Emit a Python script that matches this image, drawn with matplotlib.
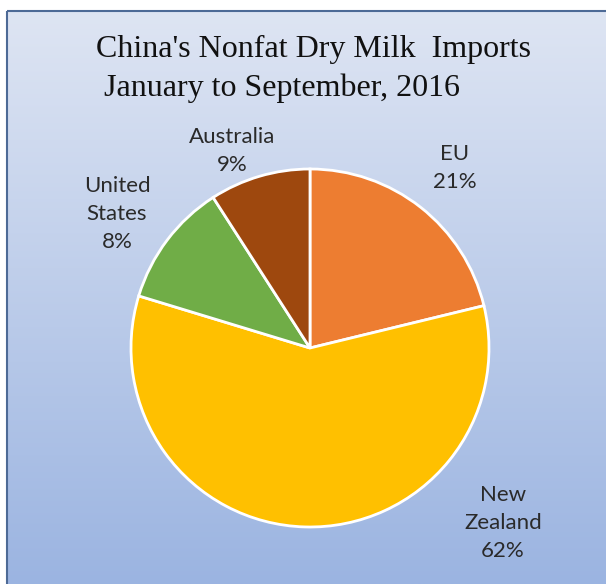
import matplotlib

matplotlib.use("Agg")

import matplotlib.pyplot as plt
import numpy as np
from matplotlib.patches import Rectangle

W, H = 606, 584

countries = ["EU", "New Zealand", "United States", "Australia"]
# slice sizes as drawn in the picture
shares = [21.2, 58.5, 11.2, 9.1]
# percentages as printed on the labels
pct_labels = ["21%", "62%", "8%", "9%"]
label_lines = ["EU", "New\nZealand", "United\nStates", "Australia"]
colors = ["#ED7D31", "#FFC000", "#70AD47", "#9E480E"]

# label anchor points in pixels (layout only)
label_pos = [(455, 168), (503, 523), (117, 214), (232, 151)]

title_lines = ["China's Nonfat Dry Milk  Imports", " January to September, 2016"]

fig = plt.figure(figsize=(W / 100, H / 100), dpi=100)

# background with vertical gradient
bg = fig.add_axes([0, 0, 1, 1])
bg.set_xlim(0, W)
bg.set_ylim(H, 0)
bg.axis("off")
top = np.array([222, 229, 243]) / 255
bottom = np.array([155, 180, 225]) / 255
t = np.linspace(0, 1, 256)[:, None]
grad = (top * (1 - t) + bottom * t)[:, None, :]
bg.imshow(grad, extent=(7, W, H, 11), aspect="auto", zorder=0)
bg.add_patch(Rectangle((7, 11), W, H, fill=False, edgecolor="#4d6a96", linewidth=1.5, zorder=1))

bg.text(96, 69, title_lines[0] + "\n" + title_lines[1], family="Liberation Serif",
        fontsize=23, ha="left", va="center", linespacing=1.4, color="#111111")

for lines, pct, (x, y) in zip(label_lines, pct_labels, label_pos):
    bg.text(x, y, lines + "\n" + pct, family="Lato", fontsize=16, ha="center",
            va="center", linespacing=1.48, color="#2a2a2a", zorder=3)

# pie axes
cx, cy, r = 310, 348, 179
ax = fig.add_axes([(cx - r) / W, (H - cy - r) / H, 2 * r / W, 2 * r / H])
ax.pie(shares, colors=colors, startangle=90, counterclock=False,
       wedgeprops=dict(edgecolor="white", linewidth=2))
ax.set_xlim(-1, 1)
ax.set_ylim(-1, 1)
ax.axis("off")

fig.savefig("out.png", dpi=100)
